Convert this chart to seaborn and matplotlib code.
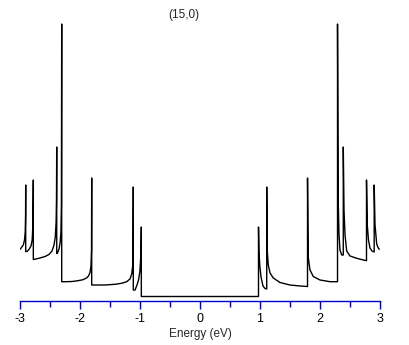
import numpy as np
import pandas as pd
import matplotlib
matplotlib.use("Agg")
import matplotlib.pyplot as plt
import seaborn as sns
from matplotlib.ticker import MultipleLocator

# Datos: densidad de estados del tubo (15,0)
energia_val = [-3.000, -2.945, -2.925, -2.913, -2.907, -2.905, -2.905,
               -2.883, -2.850, -2.817, -2.797, -2.785, -2.778, -2.778,
               -2.733, -2.667, -2.583, -2.517, -2.467, -2.433, -2.412, -2.398, -2.392, -2.388, -2.388,
               -2.375, -2.350, -2.330, -2.318, -2.310, -2.305, -2.305,
               -2.233, -2.133, -2.033, -1.950, -1.892, -1.858, -1.833, -1.817, -1.808, -1.805, -1.805,
               -1.733, -1.583, -1.417, -1.305, -1.222, -1.167, -1.138, -1.122, -1.115, -1.112, -1.112,
               -1.083, -1.050, -1.025, -1.003, -0.992, -0.983, -0.978, -0.978]
dos_val = [0.515, 0.56, 0.61, 0.69, 0.86, 1.16, 0.495,
           0.495, 0.515, 0.55, 0.61, 0.76, 1.21, 0.415,
           0.42, 0.43, 0.445, 0.465, 0.50, 0.56, 0.64, 0.79, 1.01, 1.54, 0.475,
           0.48, 0.52, 0.59, 0.69, 0.96, 2.77, 0.193,
           0.193, 0.195, 0.203, 0.213, 0.23, 0.25, 0.285, 0.35, 0.51, 1.23, 0.16,
           0.16, 0.16, 0.167, 0.177, 0.193, 0.22, 0.27, 0.35, 0.56, 1.14, 0.11,
           0.11, 0.16, 0.21, 0.29, 0.39, 0.51, 0.74, 0.045]

energia_cond = [0.975, 0.975, 0.983, 0.997, 1.017, 1.050, 1.083, 1.112, 1.112,
                1.120, 1.138, 1.167, 1.222, 1.333, 1.500, 1.667, 1.792, 1.792,
                1.803, 1.833, 1.888, 2.000, 2.167, 2.292, 2.292,
                2.303, 2.317, 2.333, 2.362, 2.388, 2.388,
                2.400, 2.417, 2.445, 2.500, 2.612, 2.722, 2.775, 2.775,
                2.788, 2.808, 2.833, 2.867, 2.903, 2.903,
                2.917, 2.945, 2.967, 2.988]
dos_cond = [0.045, 0.74, 0.49, 0.35, 0.24, 0.15, 0.125, 0.12, 1.14,
            0.51, 0.36, 0.28, 0.23, 0.185, 0.16, 0.15, 0.145, 1.23,
            0.443, 0.31, 0.245, 0.21, 0.193, 0.193, 2.77,
            1.01, 0.66, 0.51, 0.46, 0.46, 1.54,
            0.91, 0.66, 0.50, 0.45, 0.427, 0.41, 0.403, 1.21,
            0.76, 0.61, 0.53, 0.50, 0.49, 1.16,
            0.76, 0.57, 0.535, 0.517]

titulo = "(15,0)"
eje_x = "Energy (eV)"

df = pd.DataFrame({"E": energia_val + energia_cond, "DOS": dos_val + dos_cond})

sns.set_style("white")
plt.rcParams["font.family"] = ["Liberation Sans", "DejaVu Sans"]
plt.rcParams["axes.unicode_minus"] = False

azul = "#0000cc"
fig = plt.figure(figsize=(4.09, 3.45), dpi=100)
ax = fig.add_axes([20 / 409, 44 / 345, 360 / 409, 280 / 345])

sns.lineplot(data=df, x="E", y="DOS", sort=False, estimator=None,
             color="black", linewidth=1.0, ax=ax)

ax.set_xlim(-3, 3)
ax.set_ylim(0, 2.8)
ax.xaxis.set_major_locator(MultipleLocator(1))
ax.xaxis.set_minor_locator(MultipleLocator(0.5))
ax.set_yticks([])
ax.set_ylabel("")
ax.set_xlabel(eje_x, fontsize=8.5, labelpad=2)
for s in ["top", "right", "left"]:
    ax.spines[s].set_visible(False)
ax.spines["bottom"].set_color(azul)
ax.spines["bottom"].set_linewidth(1.0)
ax.tick_params(axis="x", which="major", direction="out", length=6, width=1,
               color=azul, labelcolor="black", labelsize=9, pad=3, bottom=True)
ax.tick_params(axis="x", which="minor", direction="out", length=4, width=1,
               color=azul, bottom=True)
ax.patch.set_alpha(0)

fig.text(184 / 409, 1 - 15 / 345, titulo, ha="center", va="center", fontsize=8.5)

fig.savefig("out.png", dpi=100)
